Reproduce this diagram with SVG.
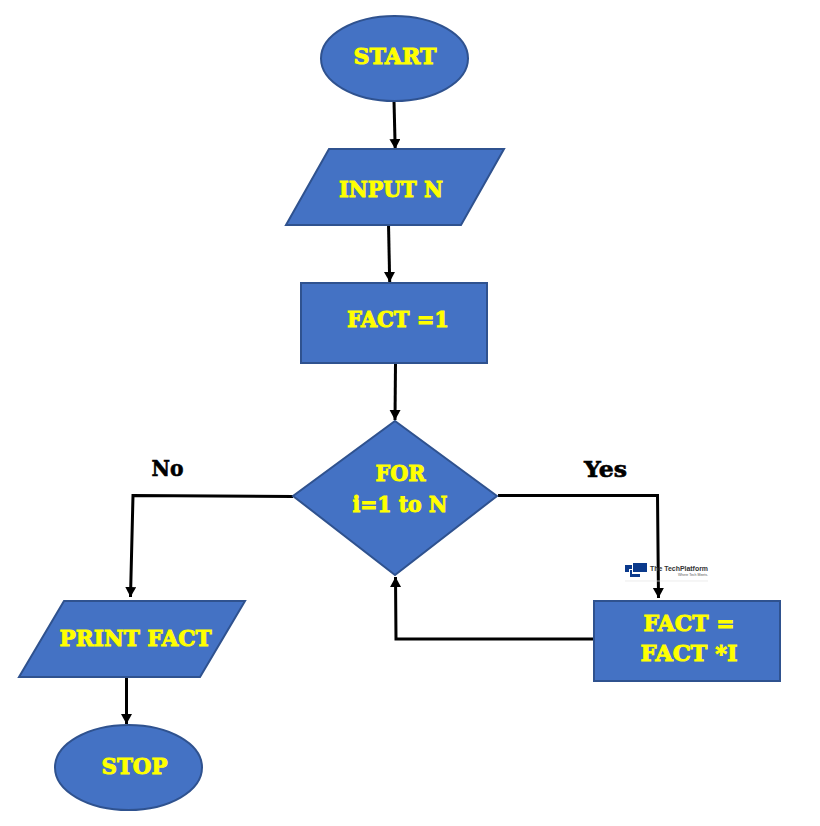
<svg xmlns="http://www.w3.org/2000/svg" width="820" height="826" viewBox="0 0 820 826">
<style>
.s{fill:#4472c4;stroke:#2f528f;stroke-width:2}
.t{font-family:"DejaVu Serif","Liberation Serif",serif;font-weight:bold;font-size:23px;fill:#ffff00;stroke:#ffff00;stroke-width:1;text-anchor:middle}
.l{font-family:"DejaVu Serif","Liberation Serif",serif;font-weight:bold;font-size:22px;fill:#000;stroke:#000;stroke-width:.6;text-anchor:middle}
.c{fill:none;stroke:#000;stroke-width:3;marker-end:url(#a)}
</style>
<defs><marker id="a" markerUnits="userSpaceOnUse" markerWidth="12" markerHeight="12" refX="10" refY="5.5" orient="auto"><path d="M0 0L10 5.500L0 11z" fill="#000"/></marker></defs>
<rect width="820" height="826" fill="#fff"/>
<g id="connectors">
<path class="c" d="M394 101L395.200 149"/>
<path class="c" d="M388.500 224L389.700 282"/>
<path class="c" d="M395.500 363L395 420"/>
<path class="c" d="M498 495.500H657.500L658.500 598"/>
<path class="c" d="M293 496.500L133 495.500L130.500 597"/>
<path class="c" d="M594 639H396L395.500 577"/>
<path class="c" d="M126.500 678V724"/>
</g>
<g id="start"><ellipse class="s" cx="394.500" cy="58.500" rx="73.500" ry="42.500"/><text class="t" x="395" y="63.500" textLength="83" lengthAdjust="spacingAndGlyphs">START</text></g>
<g id="input"><path class="s" d="M329 149H504L461 225H286z"/><text class="t" x="391" y="197" textLength="104" lengthAdjust="spacingAndGlyphs">INPUT N</text></g>
<g id="init"><rect class="s" x="301" y="283" width="186" height="80"/><text class="t" x="398" y="327" textLength="102" lengthAdjust="spacingAndGlyphs">FACT =1</text></g>
<g id="loop"><path class="s" d="M395 421L497 496L395 575L293 496z"/><text class="t" x="400.500" y="481" textLength="50" lengthAdjust="spacingAndGlyphs">FOR</text><text class="t" x="400" y="512" textLength="95" lengthAdjust="spacingAndGlyphs">i=1 to N</text></g>
<g id="update"><rect class="s" x="594" y="601" width="186" height="80"/><text class="t" x="689" y="631" textLength="91" lengthAdjust="spacingAndGlyphs">FACT =</text><text class="t" x="689" y="661" textLength="97" lengthAdjust="spacingAndGlyphs">FACT *I</text></g>
<g id="print"><path class="s" d="M64 601H245L200 677H19z"/><text class="t" x="135.500" y="646" textLength="152" lengthAdjust="spacingAndGlyphs">PRINT FACT</text></g>
<g id="stop"><ellipse class="s" cx="128.500" cy="767.500" rx="73.500" ry="42.500"/><text class="t" x="134.500" y="774" textLength="66" lengthAdjust="spacingAndGlyphs">STOP</text></g>
<g id="labels"><text class="l" x="167.500" y="476" textLength="32" lengthAdjust="spacingAndGlyphs">No</text><text class="l" x="605.500" y="477" textLength="43" lengthAdjust="spacingAndGlyphs">Yes</text></g>
<g id="logo">
<path d="M633 563H647V572H633z" fill="#0b3a8c"/>
<path d="M625 565H632V569H629V572H625zM630 570H632V574H640V577H630z" fill="#0b3a8c"/>
<text x="650" y="571" font-family="Liberation Sans,sans-serif" font-weight="bold" font-size="7.500" fill="#333" textLength="58" lengthAdjust="spacingAndGlyphs">The TechPlatform</text>
<text x="678" y="575.500" font-family="Liberation Sans,sans-serif" font-size="3.500" fill="#555" textLength="30" lengthAdjust="spacingAndGlyphs">Where Tech Meets.</text>
<path d="M625 581H708" stroke="#e4e4e4" stroke-width=".7" fill="none"/>
</g>
</svg>
